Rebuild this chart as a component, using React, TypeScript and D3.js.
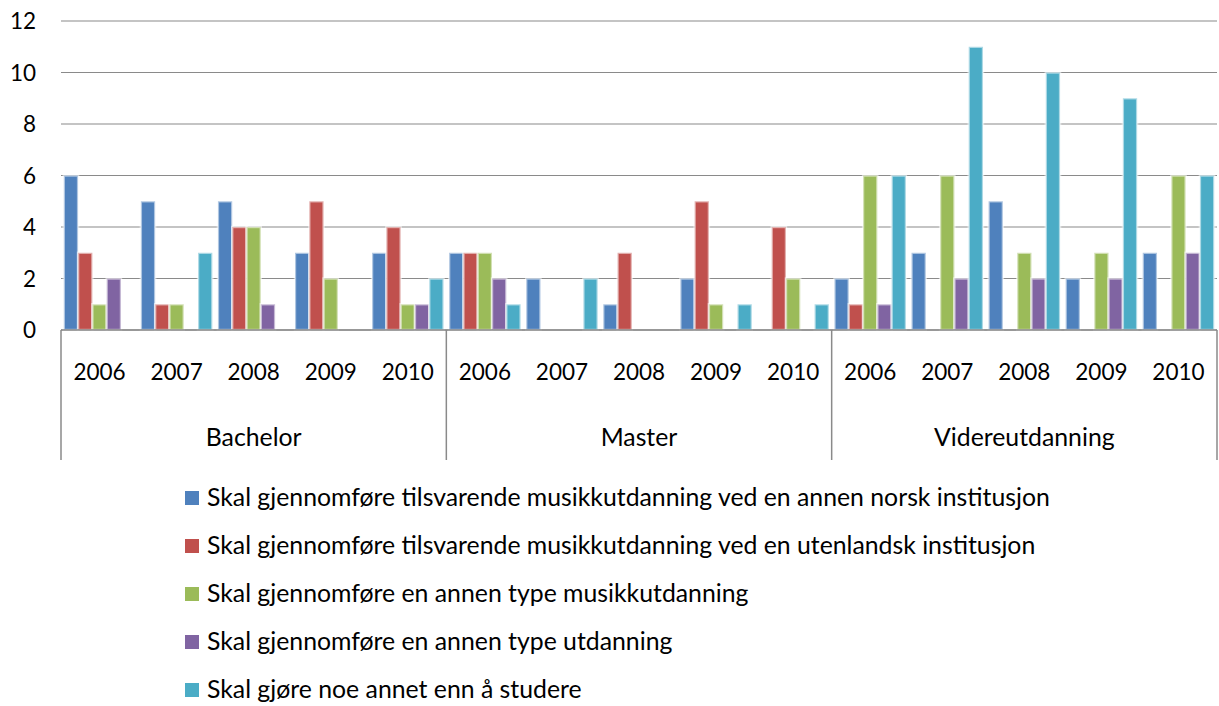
import * as d3 from "d3";

// categories
const groups = ["Bachelor", "Master", "Videreutdanning"];
const years = ["2006", "2007", "2008", "2009", "2010"];

// series (values in order: Bachelor 2006-2010, Master 2006-2010, Videreutdanning 2006-2010)
const seriesNames = [
  "Skal gjennomføre tilsvarende musikkutdanning ved en annen norsk institusjon",
  "Skal gjennomføre tilsvarende musikkutdanning ved en utenlandsk institusjon",
  "Skal gjennomføre en annen type musikkutdanning",
  "Skal gjennomføre en annen type utdanning",
  "Skal gjøre noe annet enn å studere",
];
const norsk = [6, 5, 5, 3, 3, 3, 2, 1, 2, 0, 2, 3, 5, 2, 3];
const utenlandsk = [3, 1, 4, 5, 4, 3, 0, 3, 5, 4, 1, 0, 0, 0, 0];
const annenMusikk = [1, 1, 4, 2, 1, 3, 0, 0, 1, 2, 6, 6, 3, 3, 6];
const annenUtdanning = [2, 0, 1, 0, 1, 2, 0, 0, 0, 0, 1, 2, 2, 2, 3];
const annet = [0, 3, 0, 0, 2, 1, 2, 0, 1, 1, 6, 11, 10, 9, 6];
const yTicks = [0, 2, 4, 6, 8, 10, 12];

const seriesValues = [norsk, utenlandsk, annenMusikk, annenUtdanning, annet];
const colors = ["#4F81BD", "#C0504D", "#9BBB59", "#8064A2", "#4BACC6"];

const width = 1219;
const height = 706;
const plot = { left: 61, right: 1217, top: 21, bottom: 330 };
const font = "Lato, 'Open Sans', sans-serif";
const gridColor = "#8a8a8a";
const numSize = 22.5;
const wordSize = 24.8;

export default function App() {
  const categories = groups.flatMap((g) => years.map((y) => `${g}|${y}`));

  const x0 = d3
    .scaleBand<string>()
    .domain(categories)
    .range([plot.left, plot.right])
    .paddingInner(0)
    .paddingOuter(0);

  const x1 = d3
    .scaleBand<number>()
    .domain(d3.range(seriesNames.length))
    .range([0, x0.bandwidth()])
    .paddingInner(0)
    .paddingOuter(0.195);

  const yScale = d3.scaleLinear().domain([0, 12]).range([plot.bottom, plot.top]);

  const groupWidth = (plot.right - plot.left) / groups.length;

  return (
    <svg
      width={width}
      height={height}
      style={{ position: "absolute", left: 0, top: 0, display: "block", background: "#fff" }}
      fontFamily={font}
    >
      {/* gridlines */}
      {yTicks.map((t) => (
        <line
          key={`g${t}`}
          x1={plot.left}
          x2={plot.right}
          y1={yScale(t)}
          y2={yScale(t)}
          stroke={gridColor}
          strokeWidth={1.2}
        />
      ))}

      {/* y tick labels */}
      {yTicks.map((t) => (
        <text key={`t${t}`} x={36} y={yScale(t) + 8} textAnchor="end" fontSize={numSize} fill="#000">
          {t}
        </text>
      ))}

      {/* bars */}
      {seriesValues.map((vals, s) =>
        vals.map((v, i) =>
          v > 0 ? (
            <rect
              key={`b${s}-${i}`}
              x={(x0(categories[i]) ?? 0) + (x1(s) ?? 0)}
              y={yScale(v)}
              width={x1.bandwidth()}
              height={yScale(0) - yScale(v)}
              fill={colors[s]}
              stroke="rgba(255,255,255,0.55)"
              strokeWidth={2.4}
            />
          ) : null
        )
      )}

      {/* category axis */}
      <line x1={plot.left} x2={plot.right} y1={plot.bottom} y2={plot.bottom} stroke={gridColor} strokeWidth={1.5} />
      {d3.range(groups.length + 1).map((k) => (
        <line
          key={`v${k}`}
          x1={plot.left + k * groupWidth}
          x2={plot.left + k * groupWidth}
          y1={plot.bottom}
          y2={460}
          stroke={gridColor}
          strokeWidth={1.5}
        />
      ))}
      {categories.map((c) => (
        <text
          key={`y${c}`}
          x={(x0(c) ?? 0) + x0.bandwidth() / 2}
          y={380}
          textAnchor="middle"
          fontSize={numSize}
          fill="#000"
        >
          {c.split("|")[1]}
        </text>
      ))}
      {groups.map((g, k) => (
        <text
          key={`gl${g}`}
          x={plot.left + (k + 0.5) * groupWidth}
          y={446}
          textAnchor="middle"
          fontSize={wordSize}
          fill="#000"
        >
          {g}
        </text>
      ))}

      {/* legend */}
      {seriesNames.map((name, s) => (
        <g key={`l${s}`} transform={`translate(185, ${498 + s * 48})`}>
          <rect x={0} y={-7} width={14} height={14} fill={colors[s]} />
          <text x={22} y={8} fontSize={wordSize} fill="#000">
            {name}
          </text>
        </g>
      ))}
    </svg>
  );
}
